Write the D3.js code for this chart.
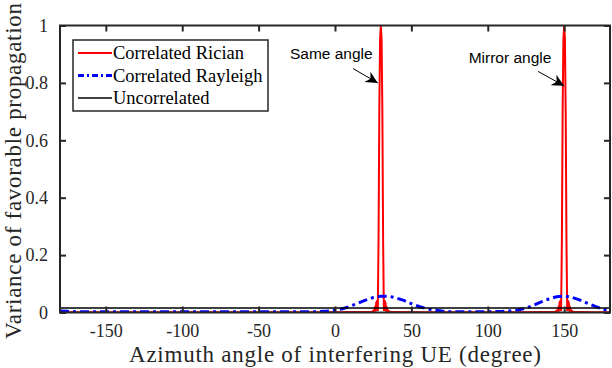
<!DOCTYPE html>
<html>
<head>
<meta charset="utf-8">
<script src="https://cdn.jsdelivr.net/npm/d3@7"></script>
<style>
  body { margin: 0; background: #fff; }
  svg { display: block; }
  .tick text { font-family: "Liberation Serif", serif; font-size: 18px; fill: #262626; }
</style>
</head>
<body>
<div id="chart"></div>
<script>
// angles (degree) and values
var xTicks = [-150, -100, -50, 0, 50, 100, 150];
var yTicks = [0, 0.2, 0.4, 0.6, 0.8, 1];

var ricianAngle = [-180, -120, -60, 0, 10, 20, 24, 25, 25.5, 26, 26.5, 27, 27.5, 28, 28.5, 29, 29.5, 30,
    30.5, 31, 31.5, 32, 32.5, 33, 33.5, 34, 34.5, 35, 36, 40, 60, 90, 120, 135, 140, 144, 145, 145.5, 146,
    146.5, 147, 147.5, 148, 148.5, 149, 149.5, 150, 150.5, 151, 151.5, 152, 152.5, 153, 153.5, 154, 154.5,
    155, 156, 160, 170, 180];
var ricianValue = [0.001, 0.001, 0.001, 0.001, 0.002, 0.002, 0.002, 0.006, 0.002, 0.012, 0.003, 0.035, 0.04, 0.005, 0.25, 0.7, 0.95, 1,
    0.95, 0.7, 0.25, 0.005, 0.04, 0.035, 0.003, 0.012, 0.002, 0.006, 0.002, 0.002, 0.001, 0.001, 0.001, 0.002, 0.002, 0.002, 0.006, 0.002, 0.012,
    0.003, 0.035, 0.04, 0.005, 0.25, 0.7, 0.95, 1, 0.95, 0.7, 0.25, 0.005, 0.04, 0.035, 0.003, 0.012, 0.002,
    0.006, 0.002, 0.002, 0.001, 0.001];

var rayleighAngle = [-180, -175, -170, -160, -140, -120, -100, -80, -60, -40, -20, -10, -5, 0, 5, 10, 15, 20, 25, 30,
    35, 40, 45, 50, 55, 60, 65, 70, 75, 80, 90, 100, 110, 115, 120, 125, 130, 135, 140, 145, 150, 155, 160,
    165, 170, 175, 180];
var rayleighValue = [0.005, 0.004, 0.003, 0.003, 0.003, 0.003, 0.003, 0.003, 0.003, 0.003, 0.003, 0.003, 0.005, 0.008, 0.013, 0.022, 0.032, 0.043, 0.052, 0.057,
    0.057, 0.051, 0.042, 0.031, 0.021, 0.013, 0.008, 0.005, 0.003, 0.003, 0.003, 0.003, 0.004, 0.006, 0.009, 0.015, 0.025, 0.037, 0.047, 0.055, 0.057, 0.053, 0.044,
    0.033, 0.022, 0.012, 0.006];

var uncorrAngle = [-180, 180];
var uncorrValue = [0.0156, 0.0156];

var seriesNames = ["Correlated Rician", "Correlated Rayleigh", "Uncorrelated"];

var margin = {top: 25.5, right: 2, bottom: 55.5, left: 60},
    width = 612 - margin.left - margin.right,
    height = 368 - margin.top - margin.bottom;

var svg = d3.select("#chart")
    .append("svg")
    .attr("width", 612)
    .attr("height", 368);

var g = svg.append("g")
    .attr("transform", "translate(" + margin.left + "," + margin.top + ")");

var xScale = d3.scaleLinear().domain([-180, 180]).range([0, width]);
var yScale = d3.scaleLinear().domain([0, 1]).range([height, 0]);

g.append("clipPath").attr("id", "clip")
    .append("rect").attr("width", width).attr("height", height + 1).attr("y", -1);

function toPoints(xs, ys) {
    return xs.map(function(x, i) { return [x, ys[i]]; });
}

var line = d3.line()
    .x(function(d) { return xScale(d[0]); })
    .y(function(d) { return yScale(d[1]); });

var plot = g.append("g").attr("clip-path", "url(#clip)");

plot.append("path")
    .datum(toPoints(ricianAngle, ricianValue))
    .attr("d", line)
    .attr("fill", "none")
    .attr("stroke", "#ff0000")
    .attr("stroke-width", 2);

plot.append("path")
    .datum(toPoints(rayleighAngle, rayleighValue))
    .attr("d", line)
    .attr("fill", "none")
    .attr("stroke", "#0000ff")
    .attr("stroke-width", 3)
    .attr("stroke-dasharray", "9,4,3,4");

plot.append("path")
    .datum(toPoints(uncorrAngle, uncorrValue))
    .attr("d", line)
    .attr("fill", "none")
    .attr("stroke", "#000")
    .attr("stroke-width", 1.5);

// axes, box with inward ticks
var axisColor = "#262626";
var tickLen = 6;

var xAxis = g.append("g")
    .attr("transform", "translate(0," + height + ")")
    .call(d3.axisBottom(xScale).tickValues(xTicks).tickSizeInner(-tickLen).tickSizeOuter(0).tickPadding(12)
        .tickFormat(function(d) { return String(d); }));
var yAxis = g.append("g")
    .call(d3.axisLeft(yScale).tickValues(yTicks).tickSizeInner(-tickLen).tickSizeOuter(0).tickPadding(12)
        .tickFormat(function(d) { return d === 0 || d === 1 ? d : d3.format(".1f")(d); }));
var xTop = g.append("g")
    .call(d3.axisTop(xScale).tickValues(xTicks).tickSizeInner(-tickLen).tickSizeOuter(0).tickFormat(""));
var yRight = g.append("g")
    .attr("transform", "translate(" + width + ",0)")
    .call(d3.axisRight(yScale).tickValues(yTicks).tickSizeInner(-tickLen).tickSizeOuter(0).tickFormat(""));

[xAxis, yAxis, xTop, yRight].forEach(function(a) {
    a.select(".domain").remove();
    a.selectAll(".tick line").attr("stroke", axisColor).attr("stroke-width", 2);
});

g.append("rect")
    .attr("width", width)
    .attr("height", height)
    .attr("fill", "none")
    .attr("stroke", axisColor)
    .attr("stroke-width", 2);

// axis labels
svg.append("text")
    .attr("x", margin.left + width / 2)
    .attr("y", 362)
    .attr("text-anchor", "middle")
    .attr("textLength", 412)
    .style("font-family", "Liberation Serif, serif")
    .style("font-size", "23px")
    .style("fill", axisColor)
    .text("Azimuth angle of interfering UE (degree)");

svg.append("text")
    .attr("transform", "translate(21,171) rotate(-90)")
    .attr("text-anchor", "middle")
    .attr("textLength", 336)
    .style("font-family", "Liberation Serif, serif")
    .style("font-size", "23px")
    .style("fill", axisColor)
    .text("Variance of favorable propagation");

// legend
var legend = g.append("g").attr("transform", "translate(13,14.5)");
legend.append("rect")
    .attr("width", 195)
    .attr("height", 71)
    .attr("fill", "#fff")
    .attr("stroke", axisColor)
    .attr("stroke-width", 1.5);

var legendStyles = [
    {color: "#ff0000", w: 2, dash: null},
    {color: "#0000ff", w: 3, dash: "6,3,2,3"},
    {color: "#000", w: 1.5, dash: null}
];

seriesNames.forEach(function(name, i) {
    var y = 13 + i * 22.5;
    legend.append("line")
        .attr("x1", 5).attr("x2", 39)
        .attr("y1", y).attr("y2", y)
        .attr("stroke", legendStyles[i].color)
        .attr("stroke-width", legendStyles[i].w)
        .attr("stroke-dasharray", legendStyles[i].dash);
    legend.append("text")
        .attr("x", 40)
        .attr("y", y + 6)
        .style("font-family", "Liberation Serif, serif")
        .style("font-size", "18.5px")
        .style("fill", "#000")
        .text(name);
});

// annotations
var notes = [
    {text: "Same angle", tx: -29.5, ty: 0.885, x1: 11.8, y1: 0.85, x2: 28, y2: 0.80},
    {text: "Mirror angle", tx: 87.5, ty: 0.868, x1: 132.9, y1: 0.84, x2: 149.9, y2: 0.79}
];

svg.append("defs").append("marker")
    .attr("id", "arrow")
    .attr("viewBox", "0 0 10 10")
    .attr("refX", 10).attr("refY", 5)
    .attr("markerWidth", 16).attr("markerHeight", 12)
    .attr("markerUnits", "userSpaceOnUse")
    .attr("orient", "auto")
    .append("path")
    .attr("d", "M0,0 L10,5 L0,10 L3,5 Z")
    .attr("fill", "#000");

notes.forEach(function(n) {
    g.append("text")
        .attr("x", xScale(n.tx))
        .attr("y", yScale(n.ty))
        .style("font-family", "Liberation Sans, Arial, sans-serif")
        .style("font-size", "15.5px")
        .style("fill", "#000")
        .text(n.text);
    g.append("line")
        .attr("x1", xScale(n.x1)).attr("y1", yScale(n.y1))
        .attr("x2", xScale(n.x2)).attr("y2", yScale(n.y2))
        .attr("stroke", "#000")
        .attr("stroke-width", 1)
        .attr("marker-end", "url(#arrow)");
});
</script>
</body>
</html>
